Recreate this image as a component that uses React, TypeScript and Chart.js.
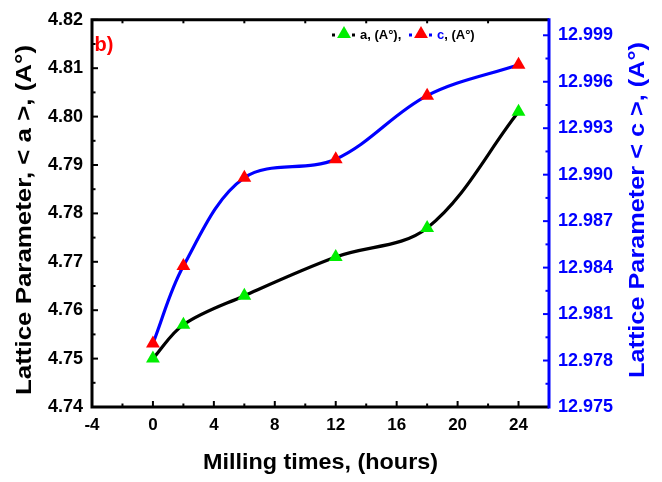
import React, { useEffect, useRef } from "react";
import { Chart, registerables } from "chart.js";

Chart.register(...registerables);

// ---- data ----
const millingTimes = [0, 2, 6, 12, 18, 24];
const latticeA = [4.750, 4.757, 4.763, 4.771, 4.777, 4.801];
const latticeC = [12.9791, 12.9841, 12.9898, 12.9910, 12.9951, 12.9971];

const xTicks = [-4, 0, 4, 8, 12, 16, 20, 24];
const aTicks = [4.74, 4.75, 4.76, 4.77, 4.78, 4.79, 4.8, 4.81, 4.82];
const cTicks = [12.975, 12.978, 12.981, 12.984, 12.987, 12.99, 12.993, 12.996, 12.999];

const xLimits = [-4, 26];
const aLimits = [4.74, 4.82];
const cLimits = [12.975, 13.0];

const xTitle = "Milling times, (hours)";
const aTitle = "Lattice Parameter, < a >, (A°)";
const cTitle = "Lattice Parameter < c >, (A°)";
const panelLabel = "b)";

const BLACK = "#000000";
const BLUE = "#0000ff";
const RED = "#ff0000";
const GREEN = "#00ee00";

function midpoints(arr: number[]) {
  const out: number[] = [];
  for (let i = 0; i < arr.length - 1; i++) out.push((arr[i] + arr[i + 1]) / 2);
  return out;
}

function stretchedText(ctx: CanvasRenderingContext2D, text: string, cx: number, cy: number, rot: number, font: string, color: string, targetWidth: number) {
  ctx.save();
  ctx.font = font;
  ctx.fillStyle = color;
  ctx.translate(cx, cy);
  ctx.rotate(rot);
  const w = ctx.measureText(text).width;
  ctx.scale(targetWidth / w, 1);
  ctx.textAlign = "center";
  ctx.textBaseline = "middle";
  ctx.fillText(text, 0, 0);
  ctx.restore();
}

function triangle(ctx: CanvasRenderingContext2D, x: number, y: number, r: number, color: string) {
  ctx.save();
  ctx.fillStyle = color;
  ctx.beginPath();
  for (let i = 0; i < 3; i++) {
    const a = (i * 2 * Math.PI) / 3;
    const px = x + Math.sin(a) * r;
    const py = y - Math.cos(a) * r;
    if (i === 0) ctx.moveTo(px, py);
    else ctx.lineTo(px, py);
  }
  ctx.closePath();
  ctx.fill();
  ctx.restore();
}

const decor = {
  id: "decor",
  afterDraw(chart: any) {
    const ctx: CanvasRenderingContext2D = chart.ctx;
    const { left, right, top, bottom } = chart.chartArea;
    const sx = chart.scales.x;
    const sa = chart.scales.yA;
    const sc = chart.scales.yC;

    ctx.save();
    ctx.lineCap = "butt";
    // ticks
    const majorLen = 6;
    const minorLen = 3.5;
    ctx.lineWidth = 2;
    ctx.strokeStyle = BLACK;
    xTicks.forEach((v) => {
      const p = sx.getPixelForValue(v);
      ctx.beginPath(); ctx.moveTo(p, bottom); ctx.lineTo(p, bottom - majorLen); ctx.stroke();
    });
    midpoints(xTicks).forEach((v) => {
      const p = sx.getPixelForValue(v);
      ctx.beginPath(); ctx.moveTo(p, bottom); ctx.lineTo(p, bottom - minorLen); ctx.stroke();
      ctx.beginPath(); ctx.moveTo(p, top); ctx.lineTo(p, top + minorLen); ctx.stroke();
    });
    aTicks.forEach((v) => {
      const p = sa.getPixelForValue(v);
      ctx.beginPath(); ctx.moveTo(left, p); ctx.lineTo(left + majorLen, p); ctx.stroke();
    });
    midpoints(aTicks).forEach((v) => {
      const p = sa.getPixelForValue(v);
      ctx.beginPath(); ctx.moveTo(left, p); ctx.lineTo(left + minorLen, p); ctx.stroke();
    });
    ctx.strokeStyle = BLUE;
    cTicks.forEach((v) => {
      const p = sc.getPixelForValue(v);
      ctx.beginPath(); ctx.moveTo(right, p); ctx.lineTo(right - majorLen, p); ctx.stroke();
    });
    midpoints(cTicks).forEach((v) => {
      const p = sc.getPixelForValue(v);
      ctx.beginPath(); ctx.moveTo(right, p); ctx.lineTo(right - minorLen, p); ctx.stroke();
    });

    // frame
    ctx.lineWidth = 3;
    ctx.strokeStyle = BLACK;
    ctx.beginPath();
    ctx.moveTo(right, top); ctx.lineTo(left, top); ctx.lineTo(left, bottom); ctx.lineTo(right, bottom);
    ctx.stroke();
    ctx.strokeStyle = BLUE;
    ctx.beginPath();
    ctx.moveTo(right, top - 1.5); ctx.lineTo(right, bottom + 1.5);
    ctx.stroke();

    // panel label
    ctx.font = 'bold 20px "Liberation Sans", Arial, sans-serif';
    ctx.fillStyle = RED;
    ctx.textAlign = "left";
    ctx.textBaseline = "alphabetic";
    ctx.fillText(panelLabel, left + 2.5, top + 31);

    // legend
    const ly = 35;
    const lf = 'bold 13px "Liberation Sans", Arial, sans-serif';
    ctx.font = lf;
    ctx.textBaseline = "middle";
    ctx.fillStyle = BLACK;
    ctx.fillRect(332, ly - 1.5, 3, 3);
    triangle(ctx, 344, ly - 1, 8, GREEN);
    ctx.fillStyle = BLACK;
    ctx.fillRect(352, ly - 1.5, 3, 3);
    ctx.fillText("a, (A°),", 360, ly);
    ctx.fillStyle = BLUE;
    ctx.fillRect(409, ly - 1.5, 3, 3);
    triangle(ctx, 421, ly - 1, 8, RED);
    ctx.fillStyle = BLUE;
    ctx.fillRect(429, ly - 1.5, 3, 3);
    ctx.fillText("c", 437, ly);
    const cw = ctx.measureText("c").width;
    ctx.fillStyle = BLACK;
    ctx.fillText(", (A°)", 437 + cw, ly);

    // axis titles
    const tf = 'bold 22px "Liberation Sans", Arial, sans-serif';
    stretchedText(ctx, xTitle, (left + right) / 2, 463, 0, tf, BLACK, 235);
    stretchedText(ctx, aTitle, 25, 220, -Math.PI / 2, tf, BLACK, 350);
    stretchedText(ctx, cTitle, 638, 210, -Math.PI / 2, tf, BLUE, 336);
    ctx.restore();
  },
};

export default function App() {
  const ref = useRef<HTMLCanvasElement | null>(null);

  useEffect(() => {
    if (!ref.current) return;
    const tickFont = { family: '"Liberation Sans", Arial, sans-serif', size: 18, weight: "bold" as const };
    const chart = new Chart(ref.current, {
      type: "line",
      data: {
        datasets: [
          {
            label: "a, (A°)",
            data: millingTimes.map((t, i) => ({ x: t, y: latticeA[i] })),
            yAxisID: "yA",
            borderColor: BLACK,
            borderWidth: 3.2,
            tension: 0.35,
            pointStyle: "triangle",
            pointRadius: 8,
            pointBackgroundColor: GREEN,
            pointBorderColor: GREEN,
            pointBorderWidth: 0,
            fill: false,
          },
          {
            label: "c, (A°)",
            data: millingTimes.map((t, i) => ({ x: t, y: latticeC[i] })),
            yAxisID: "yC",
            borderColor: BLUE,
            borderWidth: 3.2,
            tension: 0.35,
            pointStyle: "triangle",
            pointRadius: 8,
            pointBackgroundColor: RED,
            pointBorderColor: RED,
            pointBorderWidth: 0,
            fill: false,
          },
        ],
      },
      options: {
        animation: false,
        responsive: false,
        maintainAspectRatio: false,
        layout: { padding: { top: 16, left: 0, right: 0, bottom: 0 } },
        plugins: { legend: { display: false }, tooltip: { enabled: false } },
        scales: {
          x: {
            type: "linear",
            min: xLimits[0],
            max: xLimits[1],
            afterBuildTicks: (s: any) => { s.ticks = xTicks.map((v) => ({ value: v })); },
            afterFit: (s: any) => { s.height = 75; },
            grid: { display: false, drawTicks: false, tickLength: 0 },
            border: { display: false },
            ticks: { font: { ...tickFont, size: 17 }, color: BLACK, padding: 8, maxRotation: 0, callback: (v: any) => String(v) },
          },
          yA: {
            type: "linear",
            position: "left",
            min: aLimits[0],
            max: aLimits[1],
            afterBuildTicks: (s: any) => { s.ticks = aTicks.map((v) => ({ value: v })); },
            afterFit: (s: any) => { s.width = 92; },
            grid: { display: false, drawTicks: false, tickLength: 0 },
            border: { display: false },
            ticks: { font: tickFont, color: BLACK, padding: 9, callback: (v: any) => Number(v).toFixed(2) },
          },
          yC: {
            type: "linear",
            position: "right",
            min: cLimits[0],
            max: cLimits[1],
            afterBuildTicks: (s: any) => { s.ticks = cTicks.map((v) => ({ value: v })); },
            afterFit: (s: any) => { s.width = 113; },
            grid: { display: false, drawTicks: false, tickLength: 0 },
            border: { display: false },
            ticks: { font: tickFont, color: BLUE, padding: 9, callback: (v: any) => Number(v).toFixed(3) },
          },
        },
      },
      plugins: [decor],
    } as any);
    return () => chart.destroy();
  }, []);

  return (
    <div style={{ position: "fixed", left: 0, top: 0, width: 662, height: 482, background: "#fff" }}>
      <canvas ref={ref} width={662} height={482} style={{ display: "block", width: 662, height: 482 }} />
    </div>
  );
}
